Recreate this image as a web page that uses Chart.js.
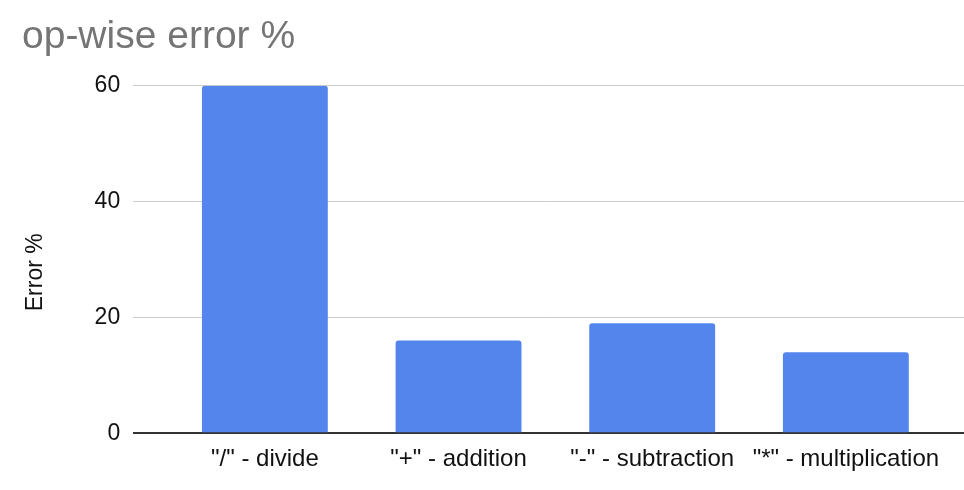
<!DOCTYPE html>
<html>
<head>
<meta charset="utf-8">
<script src="https://cdn.jsdelivr.net/npm/chart.js@4.4.0/dist/chart.umd.min.js"></script>
<style>
  html, body { margin: 0; padding: 0; background: #fff; }
  #wrap { width: 964px; height: 490px; }
</style>
</head>
<body>
<div id="wrap"><canvas id="myChart" width="964" height="490"></canvas></div>
<script>
// ********* DATA *********
const categories = ['"/" - divide', '"+" - addition', '"-" - subtraction', '"*" - multiplication'];
const errorValues = [60, 16, 19, 14];
const yTicks = [0, 20, 40, 60];

const barColor = "#5485ec";
const fontFamily = "'Liberation Sans', Arial, sans-serif";

window.addEventListener("load", () => {
  refreshChart();
});

const refreshChart = () => {
  const ctx = document.getElementById("myChart");

  new Chart(ctx, {
    type: "bar",
    data: {
      datasets: [
        {
          label: "Error %",
          data: errorValues.map((v, i) => ({ x: i, y: v })),
          backgroundColor: barColor,
          borderRadius: { topLeft: 3, topRight: 3 },
          borderSkipped: "bottom",
          barPercentage: 0.65,
          categoryPercentage: 1,
        },
      ],
    },
    options: {
      responsive: false,
      animation: false,
      layout: {
        padding: { left: 22, right: 0, top: 0, bottom: 4 },
      },
      plugins: {
        legend: { display: false },
        tooltip: { enabled: false },
        title: {
          display: true,
          text: "op-wise error %",
          align: "start",
          color: "#757575",
          font: { family: fontFamily, size: 39, weight: "normal" },
          padding: { top: 14, bottom: 25 },
        },
      },
      scales: {
        x: {
          type: "linear",
          min: -0.68,
          max: 3.61,
          offset: false,
          afterBuildTicks: (axis) => {
            axis.ticks = categories.map((c, i) => ({ value: i }));
          },
          ticks: {
            autoSkip: false,
            maxRotation: 0,
            color: "#111",
            padding: 12,
            font: { family: fontFamily, size: 24 },
            callback: (value) => categories[value],
          },
          grid: { display: false, drawTicks: false },
          border: { display: false },
        },
        y: {
          min: 0,
          max: 60,
          afterBuildTicks: (axis) => {
            axis.ticks = yTicks.map((v) => ({ value: v }));
          },
          ticks: {
            color: "#111",
            padding: 13,
            font: { family: fontFamily, size: 23 },
          },
          title: {
            display: true,
            // trailing spaces nudge the rotated title down a bit
            text: "Error %    ",
            color: "#111",
            padding: { top: 0, bottom: 32 },
            font: { family: fontFamily, size: 23 },
          },
          grid: {
            drawTicks: false,
            color: (c) => (c.tick && c.tick.value === 0 ? "#333" : "#cccccc"),
            lineWidth: (c) => (c.tick && c.tick.value === 0 ? 2 : 1),
          },
          border: { display: false },
        },
      },
    },
  });
};
</script>
</body>
</html>
